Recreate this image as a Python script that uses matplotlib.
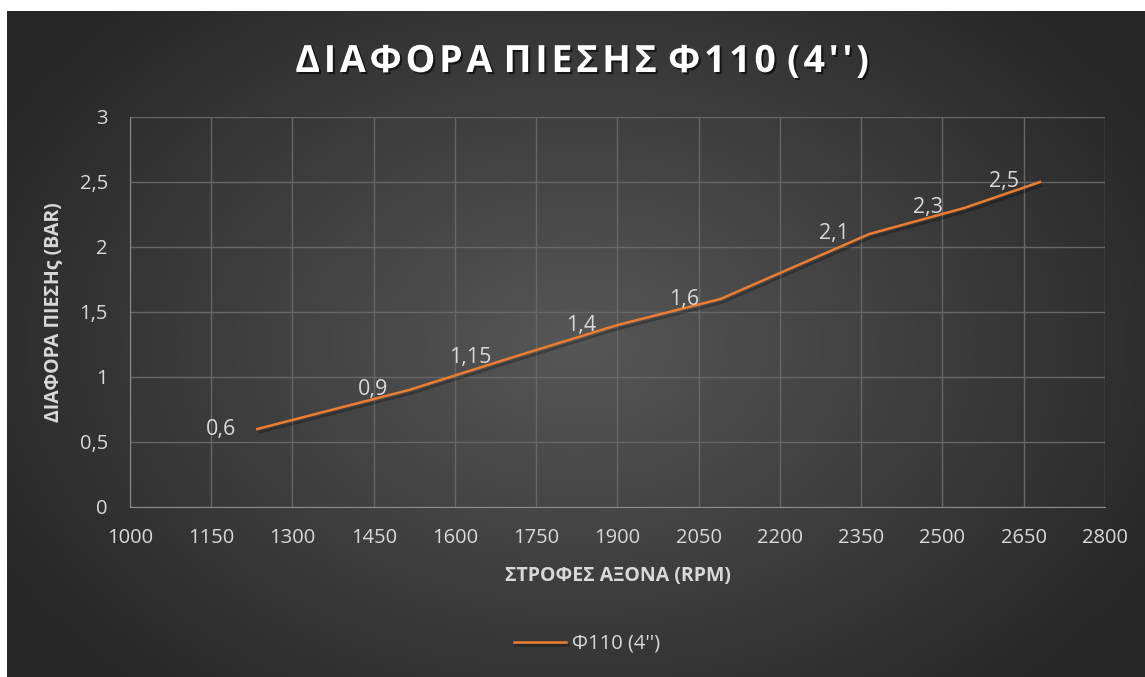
import numpy as np
import matplotlib.pyplot as plt
import matplotlib.patheffects as pe
from matplotlib.ticker import FuncFormatter

rpm = [1235, 1515, 1705, 1900, 2090, 2365, 2540, 2680]
dp_bar = [0.6, 0.9, 1.15, 1.4, 1.6, 2.1, 2.3, 2.5]
point_labels = ["0,6", "0,9", "1,15", "1,4", "1,6", "2,1", "2,3", "2,5"]
series_name = "Φ110 (4'')"

W, H = 1145, 677
fig = plt.figure(figsize=(W / 100, H / 100), dpi=100, facecolor="white")

# dark radial gradient panel, leaving a thin white strip top/left
bg = fig.add_axes([7 / W, 0, 1 - 7 / W, 1 - 11 / H])
bg.set_axis_off()
yy, xx = np.mgrid[0:1:400j, 0:1:700j]
r = np.sqrt(((xx - 0.5) / 0.62) ** 2 + ((yy - 0.5) / 0.75) ** 2)
shade = np.clip(0.34 - 0.2 * r, 0.15, 0.34)
bg.imshow(np.dstack([shade] * 3), extent=[0, 1, 0, 1], aspect="auto")
bg.set_xlim(0, 1)
bg.set_ylim(0, 1)

txt = "#d9d9d9"
font = "Open Sans"

ax = fig.add_axes([130 / W, 1 - 507 / H, 975 / W, 390 / H])
ax.set_facecolor("none")
ax.set_xlim(1000, 2800)
ax.set_ylim(0, 3)
ax.set_xticks(np.arange(1000, 2801, 150))
ax.set_yticks(np.arange(0, 3.01, 0.5))
comma = FuncFormatter(lambda v, p: f"{v:g}".replace(".", ","))
ax.xaxis.set_major_formatter(comma)
ax.yaxis.set_major_formatter(comma)
ax.grid(True, color="#676767", linewidth=1)
ax.set_axisbelow(True)
for s in ["top", "right"]:
    ax.spines[s].set_visible(False)
for s in ["left", "bottom"]:
    ax.spines[s].set_color("#8a8a8a")
ax.tick_params(length=0, colors=txt, labelsize=14.5)
ax.tick_params(axis="x", pad=15)
ax.tick_params(axis="y", pad=16)
for lab in ax.get_xticklabels() + ax.get_yticklabels():
    lab.set_fontfamily(font)

line, = ax.plot(rpm, dp_bar, color="#ed7d31", linewidth=1.8, label=series_name,
                path_effects=[pe.SimpleLineShadow(offset=(1.5, -2.5), shadow_color="black", alpha=0.28),
                              pe.Normal()])

for x, y, s in zip(rpm, dp_bar, point_labels):
    ax.annotate(s, (x, y), xytext=(-15, 0), textcoords="offset points",
                ha="right", va="center", color=txt, fontsize=15.5, fontfamily=font)

ax.set_xlabel("ΣΤΡΟΦΕΣ ΑΞΟΝΑ (RPM)", color=txt, fontsize=14, fontweight="bold",
              fontfamily=font, labelpad=13)
ax.set_ylabel("ΔΙΑΦΟΡΑ ΠΙΕΣΗς (BAR)", color=txt, fontsize=14, fontweight="bold",
              fontfamily=font, labelpad=12)

fig.text(582 / W, 1 - 62 / H, "Δ Ι Α Φ Ο Ρ Α   Π Ι Ε Σ Η Σ   Φ 1 1 0   ( 4 ' ' )".replace(" ", "\u200a"),
         ha="center", va="center", color="white", fontsize=27, fontweight="bold", fontfamily=font,
         path_effects=[pe.withSimplePatchShadow(offset=(1.5, -1.5), shadow_rgbFace="black", alpha=0.6)])

leg = fig.legend(handles=[line], loc="center", bbox_to_anchor=(587 / W, 1 - 644 / H),
                 frameon=False, fontsize=14.5, handlelength=2.6, handletextpad=0.3)
for t in leg.get_texts():
    t.set_color(txt)
    t.set_fontfamily(font)

fig.savefig("out.png", dpi=100, facecolor="white")
